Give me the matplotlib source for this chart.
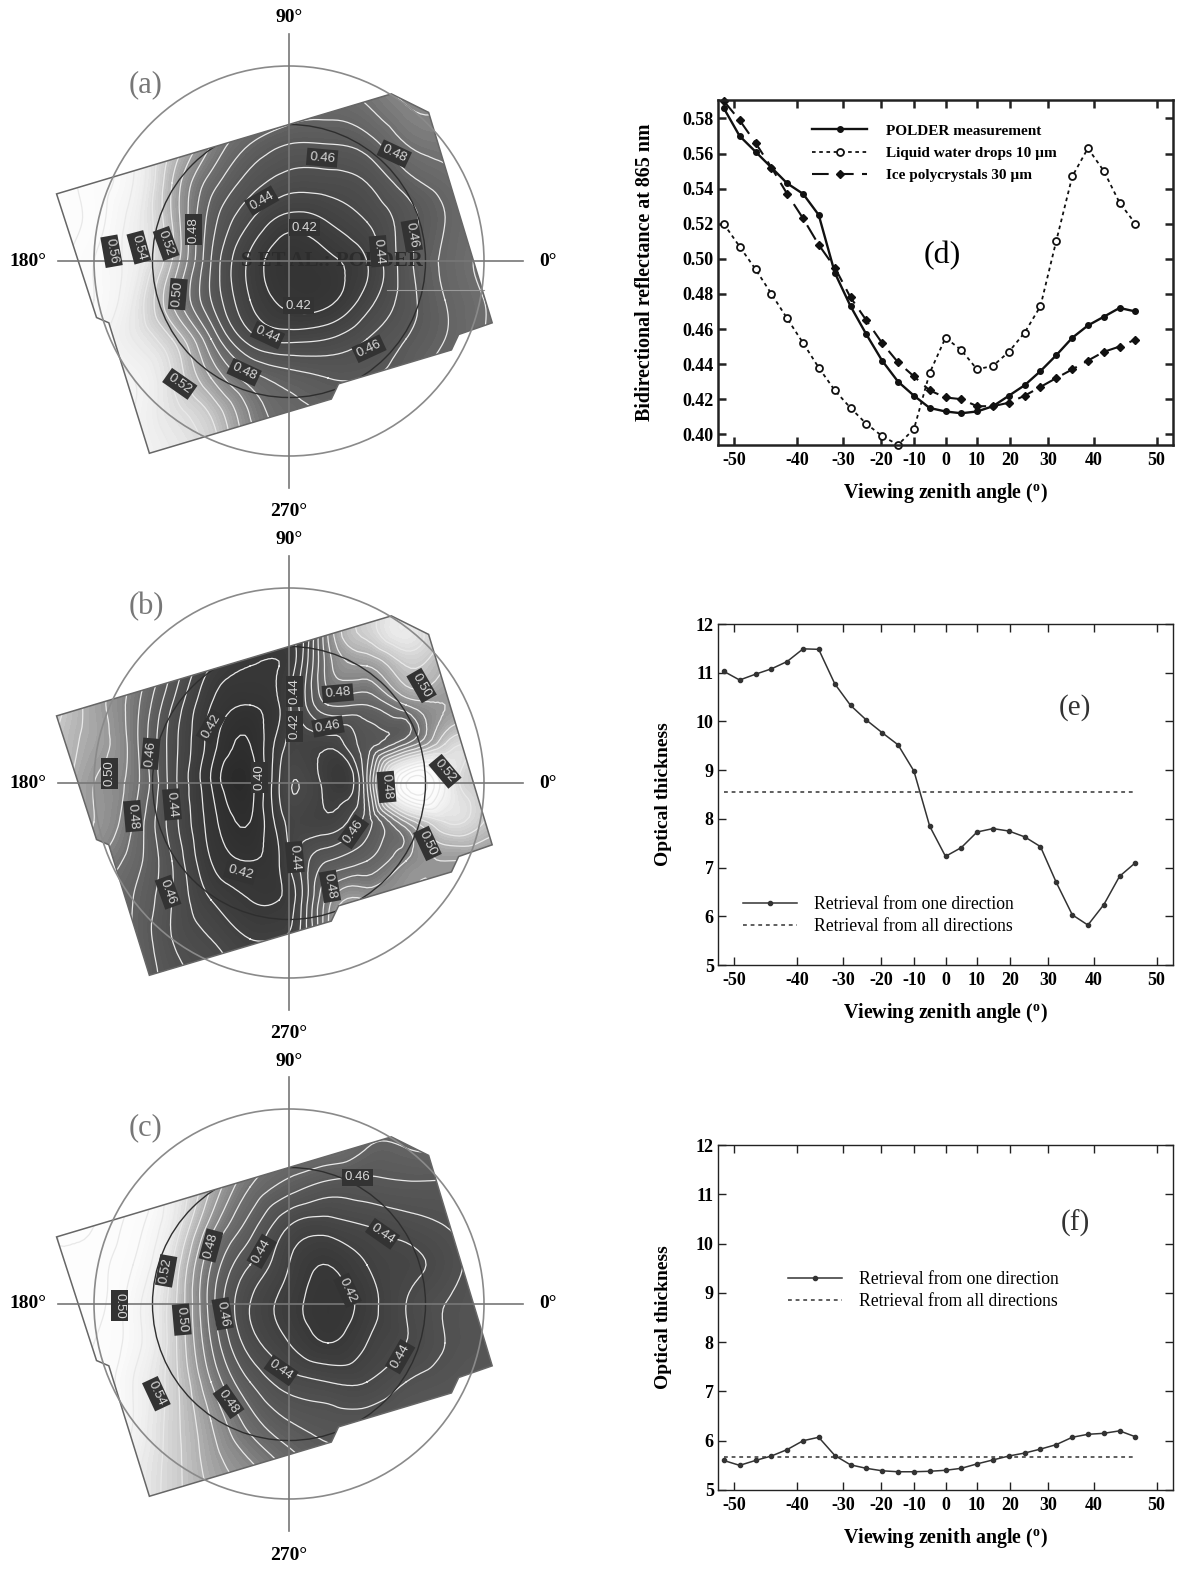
import numpy as np
import matplotlib
matplotlib.use("Agg")
import matplotlib.pyplot as plt
import matplotlib.tri as mtri
from matplotlib.colors import LinearSegmentedColormap, Normalize
from matplotlib.patches import Circle, Polygon

plt.rcParams['font.family'] = ['Liberation Serif', 'DejaVu Serif']
plt.rcParams['axes.unicode_minus'] = False

W, H = 1177, 1569

# viewing angles of the POLDER directions (degrees)
angles = [-51.4, -49.3, -47.0, -44.5, -41.8, -38.8, -35.6, -32.0, -28.2, -24.1, -19.7, -15.0, -10.1, -5.1,
          0.0, 5.1, 10.1, 15.0, 19.7, 24.1, 28.2, 32.0, 35.6, 38.8, 41.8, 44.5, 47.0]

polder = [.586, .570, .561, .552, .543, .537, .525, .492, .473, .457, .442, .430, .422, .415,
          .413, .412, .413, .416, .422, .428, .436, .445, .455, .462, .467, .472, .470]
liquid = [.520, .507, .494, .480, .466, .452, .438, .425, .415, .406, .399, .394, .403, .435,
          .455, .448, .437, .439, .447, .458, .473, .510, .547, .563, .550, .532, .520]
ice = [.590, .579, .566, .552, .537, .523, .508, .495, .478, .465, .452, .441, .433, .425,
       .421, .420, .416, .416, .418, .422, .427, .432, .437, .442, .447, .450, .454]

tau_e = [11.03, 10.85, 10.97, 11.08, 11.23, 11.49, 11.48, 10.77, 10.33, 10.03, 9.77, 9.52, 8.98, 7.85,
         7.23, 7.41, 7.73, 7.80, 7.75, 7.63, 7.43, 6.70, 6.03, 5.82, 6.24, 6.82, 7.10]
tau_e_all = 8.55
tau_f = [5.60, 5.50, 5.60, 5.69, 5.82, 6.00, 6.07, 5.70, 5.51, 5.44, 5.39, 5.37, 5.37, 5.38,
         5.40, 5.44, 5.53, 5.61, 5.69, 5.75, 5.83, 5.92, 6.07, 6.13, 6.15, 6.20, 6.08]
tau_f_all = 5.66

x_ticks = [-50, -40, -30, -20, -10, 0, 10, 20, 30, 40, 50]

# footprint of the scene on the polar maps, outer circle has radius 1
footprint_u = [-1.192, 0.525, 0.716, 1.042, 0.870, 0.833, 0.254, 0.217, -0.716, -0.924, -0.987]
footprint_v = [0.344, 0.857, 0.762, -0.317, -0.377, -0.456, -0.630, -0.708, -0.986, -0.317, -0.290]

grid_v = [1.0, 0.8, 0.6, 0.4, 0.2, 0.0, -0.2, -0.4, -0.6, -0.8, -1.0]
grid_u = [-1.2, -1.0, -0.8, -0.6, -0.4, -0.2, 0.0, 0.2, 0.4, 0.6, 0.8, 1.0, 1.2]
grid_u_b = [-1.2, -1.0, -0.8, -0.6, -0.4, -0.2, -0.05, 0.05, 0.2, 0.4, 0.6, 0.8, 1.0, 1.2]

refl_a = [
    [.58, .57, .55, .53, .51, .50, .49, .485, .49, .50, .49, .49, .49],
    [.58, .57, .55, .53, .50, .49, .48, .475, .48, .49, .49, .49, .49],
    [.58, .57, .55, .52, .49, .47, .46, .46, .465, .48, .485, .49, .49],
    [.58, .565, .55, .51, .475, .455, .445, .445, .45, .465, .475, .485, .49],
    [.58, .565, .545, .51, .465, .44, .425, .43, .44, .455, .47, .48, .485],
    [.575, .56, .545, .51, .46, .428, .412, .417, .43, .456, .472, .483, .49],
    [.57, .56, .54, .50, .46, .43, .416, .417, .435, .455, .47, .48, .49],
    [.565, .555, .54, .52, .48, .445, .437, .44, .45, .46, .47, .48, .49],
    [.565, .555, .55, .53, .50, .475, .465, .46, .46, .465, .475, .48, .49],
    [.56, .555, .55, .535, .52, .49, .475, .47, .47, .47, .475, .48, .49],
    [.56, .555, .55, .54, .525, .50, .49, .48, .48, .475, .48, .48, .49],
]
refl_b = [
    [.53, .52, .50, .48, .46, .445, .44, .44, .49, .53, .53, .51, .50, .50],
    [.53, .52, .495, .47, .45, .435, .43, .435, .49, .525, .54, .51, .50, .50],
    [.53, .51, .49, .46, .43, .42, .42, .435, .485, .50, .52, .51, .505, .50],
    [.525, .505, .485, .45, .42, .41, .42, .44, .47, .47, .49, .50, .51, .51],
    [.52, .505, .485, .445, .415, .40, .425, .435, .433, .455, .48, .52, .525, .51],
    [.52, .50, .485, .445, .41, .395, .43, .44, .425, .46, .58, .55, .52, .51],
    [.51, .50, .48, .445, .415, .40, .425, .435, .433, .455, .50, .53, .52, .51],
    [.50, .49, .475, .45, .42, .41, .42, .44, .46, .47, .49, .50, .50, .50],
    [.495, .48, .47, .45, .43, .42, .42, .435, .485, .50, .50, .50, .50, .50],
    [.49, .48, .47, .45, .44, .43, .43, .44, .49, .52, .51, .50, .50, .50],
    [.48, .48, .47, .455, .445, .44, .44, .445, .49, .52, .51, .50, .50, .50],
]
refl_c = [
    [.58, .58, .57, .55, .52, .50, .485, .49, .48, .48, .48, .48, .48],
    [.58, .58, .57, .55, .52, .495, .48, .48, .47, .47, .47, .465, .465],
    [.58, .58, .57, .545, .51, .48, .465, .456, .456, .458, .458, .458, .46],
    [.58, .58, .565, .54, .495, .465, .44, .435, .44, .445, .45, .455, .46],
    [.58, .575, .56, .53, .48, .45, .43, .42, .43, .437, .445, .455, .46],
    [.58, .575, .555, .525, .475, .44, .425, .415, .425, .44, .45, .455, .46],
    [.58, .57, .555, .525, .48, .445, .43, .42, .43, .44, .45, .455, .46],
    [.575, .57, .55, .525, .49, .46, .445, .44, .44, .45, .455, .46, .46],
    [.575, .57, .55, .525, .50, .475, .46, .455, .455, .46, .46, .465, .47],
    [.575, .565, .545, .525, .505, .49, .475, .465, .465, .47, .47, .47, .47],
    [.575, .565, .545, .525, .51, .50, .49, .48, .475, .475, .475, .475, .475],
]

# contour labels: u, v, text, rotation
labels_a = [(.17, .53, "0.46", -5), (.54, .55, "0.48", -25), (-.14, .31, "0.44", 30), (.08, .17, "0.42", 0),
            (.05, -.23, "0.42", 0), (-.11, -.38, "0.44", -25), (.41, -.45, "0.46", 25), (-.23, -.57, "0.48", -25),
            (-.56, -.63, "0.52", -35), (-.57, -.17, "0.50", 85), (-.63, .09, "0.52", -70), (-.77, .07, "0.54", -75),
            (-.91, .05, "0.56", -80), (-.49, .16, "0.48", 90), (.63, .13, "0.46", -80), (.46, .05, "0.44", -85)]
labels_b = [(.68, .50, "0.50", -60), (.25, .46, "0.48", 5), (.20, .29, "0.46", 10), (-.40, .29, "0.42", 60),
            (.03, .47, "0.44", 90), (.03, .29, "0.42", 90), (-.71, .15, "0.46", 85), (-.92, .05, "0.50", 90),
            (-.80, -.17, "0.48", -85), (-.60, -.11, "0.44", -85), (-.15, .03, "0.40", 90), (.50, -.02, "0.48", -85),
            (.80, .06, "0.52", -50), (.71, -.31, "0.50", -65), (.33, -.25, "0.46", 55), (.03, -.38, "0.44", -85),
            (-.25, -.46, "0.42", -15), (-.62, -.56, "0.46", -70), (.21, -.53, "0.48", -80)]
labels_c = [(.35, .65, "0.46", 0), (-.40, .30, "0.48", 75), (-.63, .17, "0.52", 80), (-.87, -.01, "0.50", -90),
            (-.55, -.08, "0.50", -85), (-.34, -.05, "0.46", -80), (-.14, .27, "0.44", 60), (.48, .36, "0.44", -35),
            (.30, .07, "0.42", -65), (.57, -.27, "0.44", 60), (-.04, -.34, "0.44", -35), (-.31, -.50, "0.48", -55),
            (-.68, -.46, "0.54", -65)]

gray_stops = [(.39, '#2a2a2a'), (.42, '#383838'), (.46, '#585858'), (.48, '#6e6e6e'), (.50, '#989898'),
              (.52, '#c8c8c8'), (.54, '#ececec'), (.56, '#fbfbfb'), (.60, '#ffffff')]
vmin, vmax = gray_stops[0][0], gray_stops[-1][0]
gray_map = LinearSegmentedColormap.from_list(
    'refl', [((v - vmin) / (vmax - vmin), c) for v, c in gray_stops])

fig = plt.figure(figsize=(W / 100, H / 100), dpi=100, facecolor='white')


def px_axes(left, top, right, bottom):
    return fig.add_axes([left / W, 1 - bottom / H, (right - left) / W, (bottom - top) / H])


def polar_map(cx, cy, us, refl, labels, tag):
    radius = 195
    half = 280 / radius
    ax = px_axes(cx - 280, cy - 280, cx + 280, cy + 280)
    ax.set_xlim(-half, half)
    ax.set_ylim(-half, half)
    ax.axis('off')

    U, V = np.meshgrid(us, grid_v)
    tri = mtri.Triangulation(U.ravel(), V.ravel())
    fine_tri, fine_z = mtri.UniformTriRefiner(tri).refine_field(np.array(refl).ravel(), subdiv=3)

    outline = Polygon(np.column_stack([footprint_u, footprint_v]), closed=True, fc='none', ec='#666666', lw=1.1, zorder=4)
    ax.add_patch(outline)
    filled = ax.tricontourf(fine_tri, fine_z, levels=np.arange(.37, .64, .0025), cmap=gray_map,
                            norm=Normalize(vmin, vmax), zorder=1)
    filled.set_clip_path(outline)
    lines = ax.tricontour(fine_tri, fine_z, levels=np.arange(.40, .60, .01), colors='#e8e8e8', linewidths=0.9, zorder=2)
    lines.set_clip_path(outline)

    # inner circle is only dark where it crosses the image, outer one stays light
    inner = Circle((0, 0), 0.70, fc='none', ec='#2e2e2e', lw=1.0, zorder=3)
    ax.add_patch(inner)
    inner.set_clip_path(outline)
    ax.add_patch(Circle((0, 0), 1.0, fc='none', ec='#8a8a8a', lw=1.2, zorder=5))
    ax.plot([0, 0], [-1.165, 1.165], color='#777777', lw=1.2, zorder=5)
    ax.plot([-1.185, 1.2], [0, 0], color='#777777', lw=1.2, zorder=5)

    for u, v, txt, rot in labels:
        ax.text(u, v, txt, rotation=rot, ha='center', va='center', fontsize=9.5, color='#d8d8d8', zorder=6,
                family=['Liberation Sans', 'DejaVu Sans'], rotation_mode='anchor',
                bbox=dict(boxstyle='square,pad=0.2', fc='#333333', ec='none'))

    fig.text(cx / W, 1 - (cy - 243) / H, "90°", ha='center', va='center', fontsize=14, fontweight='bold')
    fig.text(cx / W, 1 - (cy + 251) / H, "270°", ha='center', va='center', fontsize=14, fontweight='bold')
    fig.text(28 / W, 1 - cy / H, "180°", ha='center', va='center', fontsize=14, fontweight='bold')
    fig.text(548 / W, 1 - cy / H, "0°", ha='center', va='center', fontsize=14, fontweight='bold')
    fig.text(146 / W, 1 - (cy - 176) / H, tag, ha='center', va='center', fontsize=22, color='#777777')
    return ax


ax_a = polar_map(289, 261, grid_u, refl_a, labels_a, "(a)")
polar_map(289, 783, grid_u_b, refl_b, labels_b, "(b)")
polar_map(289, 1304, grid_u, refl_c, labels_c, "(c)")

# running head of the scanned page shows through panel (a)
ax_a.text(0.22, 0.0, "S ET AL.: POLDER", ha='center', va='center', fontsize=15, fontweight='bold', color='#2c2c2c', zorder=3)
ax_a.plot([0.5, 1.0], [-0.15, -0.15], color='#9a9a9a', lw=0.8, zorder=3)


def tan_deg(a):
    return np.tan(np.radians(a))


def atan_deg(t):
    return np.degrees(np.arctan(t))


def setup_lines(ax, lw, xlab_y, ylab_x):
    ax.set_xscale('function', functions=(tan_deg, atan_deg))
    ax.set_xlim(-52.1, 52.1)
    ax.set_xticks(x_ticks)
    ax.set_xticklabels([str(t) for t in x_ticks])
    ax.minorticks_off()
    ax.tick_params(axis='both', which='major', direction='in', top=True, right=True, length=6, width=lw,
                   labelsize=13, color='#222222')
    ax.tick_params(axis='x', pad=5)
    ax.tick_params(axis='y', pad=3)
    for lab in ax.get_xticklabels() + ax.get_yticklabels():
        lab.set_fontweight('bold')
    for s in ax.spines.values():
        s.set_linewidth(lw)
        s.set_color('#222222')
    ax.set_xlabel("Viewing zenith angle ($\\mathregular{^o}$)", fontsize=14.4, fontweight='bold')
    ax.xaxis.set_label_coords(0.5, xlab_y)
    ax.yaxis.set_label_coords(ylab_x, 0.5)


# (d) reflectances
ax_d = px_axes(718, 100, 1173, 445)
ax_d.plot(angles, polder, '-', color='#111111', lw=1.7, marker='o', ms=4, clip_on=False, label="POLDER measurement")
ax_d.plot(angles, liquid, color='#111111', lw=1.3, ls=(0, (2, 2)), marker='o', ms=5, mfc='white', mew=1.3,
          clip_on=False, label="Liquid water drops 10 µm")
ax_d.plot(angles, ice, color='#111111', lw=1.5, ls=(0, (8, 4)), marker='D', ms=3.8, clip_on=False,
          label="Ice polycrystals 30 µm")
ax_d.set_ylim(0.3939, 0.5905)
ax_d.set_yticks(np.arange(0.40, 0.59, 0.02))
ax_d.set_yticklabels(["%.2f" % t for t in np.arange(0.40, 0.59, 0.02)])
setup_lines(ax_d, 1.8, -0.105, -0.138)
ax_d.set_ylabel("Bidirectional reflectance at 865 nm", fontsize=14.4, fontweight='bold')
ax_d.legend(loc='upper left', bbox_to_anchor=(0.207, 0.93), borderaxespad=0, borderpad=0, frameon=False,
            handlelength=3.6, handletextpad=1.2, labelspacing=0.55, prop=dict(size=11, weight='bold'))
ax_d.text(-1.0, 0.502, "(d)", ha='center', va='center', fontsize=23)

# (e) optical thickness, strong variation
ax_e = px_axes(718, 624, 1173, 965)
ax_e.plot(angles, tau_e, '-', color='#333333', lw=1.1, marker='o', ms=3, label="Retrieval from one direction")
ax_e.plot([angles[0], angles[-1]], [tau_e_all, tau_e_all], color='#333333', lw=1.1, ls=(0, (2.5, 2.5)),
          label="Retrieval from all directions")
ax_e.set_ylim(5, 12)
ax_e.set_yticks(range(5, 13))
setup_lines(ax_e, 1.0, -0.105, -0.101)
ax_e.set_ylabel("Optical thickness", fontsize=14, fontweight='bold')
ax_e.legend(loc='upper left', bbox_to_anchor=(0.055, 0.202), borderaxespad=0, borderpad=0, frameon=False,
            handlelength=3.05, handletextpad=0.97, labelspacing=0.3, prop=dict(size=12.7))
ax_e.text(0.785, 0.754, "(e)", transform=ax_e.transAxes, fontsize=21, ha='center', va='center', color='#333333')

# (f) optical thickness, weak variation
ax_f = px_axes(718, 1145, 1173, 1490)
ax_f.plot(angles, tau_f, '-', color='#333333', lw=1.1, marker='o', ms=3, label="Retrieval from one direction")
ax_f.plot([angles[0], angles[-1]], [tau_f_all, tau_f_all], color='#333333', lw=1.1, ls=(0, (2.5, 2.5)),
          label="Retrieval from all directions")
ax_f.set_ylim(5, 12)
ax_f.set_yticks(range(5, 13))
setup_lines(ax_f, 1.0, -0.105, -0.101)
ax_f.set_ylabel("Optical thickness", fontsize=14, fontweight='bold')
ax_f.legend(loc='upper left', bbox_to_anchor=(0.154, 0.635), borderaxespad=0, borderpad=0, frameon=False,
            handlelength=3.05, handletextpad=0.97, labelspacing=0.3, prop=dict(size=12.7))
ax_f.text(0.785, 0.774, "(f)", transform=ax_f.transAxes, fontsize=21, ha='center', va='center', color='#333333')

fig.savefig("out.png", dpi=100)
